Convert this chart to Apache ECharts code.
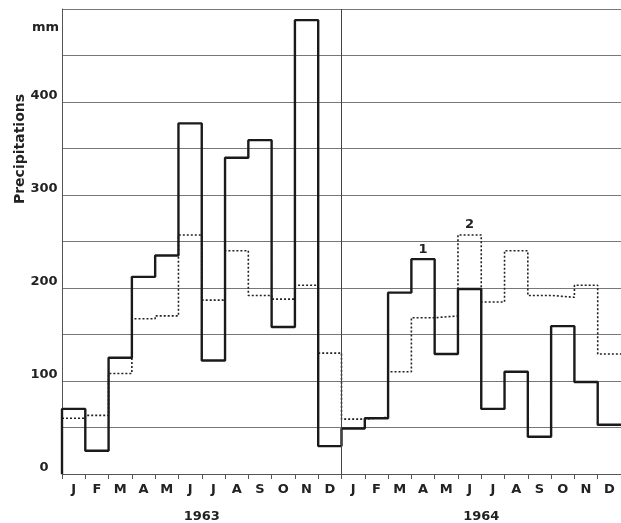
<!DOCTYPE html>
<html><head><meta charset="utf-8">
<script src="https://cdn.jsdelivr.net/npm/echarts@6/dist/echarts.min.js"></script>
<style>html,body{margin:0;padding:0;background:#fff}#c{width:621px;height:523px}</style>
</head><body><div id="c"></div>
<script>
var months = ['J','F','M','A','M','J','J','A','S','O','N','D','J','F','M','A','M','J','J','A','S','O','N','D'];
var years = ['1963','1964'];
var yTickLabels = [0,100,200,300,400];
// 1 : monthly precipitation (solid)
var precip1 = [70,25,125,212,235,377,122,340,359,158,488,30, 49,60,195,231,129,199,70,110,40,159,99,53];
// 2 : reference precipitation (dotted)
var precip2 = [60,63,108,167,170,257,187,240,192,188,203,130, 59,61,110,168,170,257,185,240,192,190,203,129];
var seriesLabels = [{name:'1', month:3, value:234},{name:'2', month:5, value:261}];

function stepData(vals, fromZero){
  var d = [];
  if (fromZero) d.push([0,0]);
  for (var i=0;i<vals.length;i++) d.push([i, vals[i]]);
  d.push([vals.length, vals[vals.length-1]]);
  return d;
}
var FONT = 'DejaVu Sans';
var chart = echarts.init(document.getElementById('c'), null, {renderer:'canvas'});
chart.setOption({
  animation:false,
  backgroundColor:'#ffffff',
  grid:{left:62, top:9, width:561, height:466},
  xAxis:[
    {type:'value', min:0, max:24, interval:1, position:'bottom',
     axisLine:{show:true, lineStyle:{color:'#555', width:1}},
     axisTick:{show:true, length:5, lineStyle:{color:'#555', width:1}},
     axisLabel:{show:false}, splitLine:{show:false}},
    {type:'category', data:months, position:'bottom', boundaryGap:true,
     axisLine:{show:false}, axisTick:{show:false},
     axisLabel:{show:true, interval:0, margin:9, fontFamily:FONT, fontWeight:'bold', fontSize:13, color:'#222'}},
    {type:'category', data:years, position:'bottom', boundaryGap:true,
     axisLine:{show:false}, axisTick:{show:false},
     axisLabel:{show:true, interval:0, margin:36, fontFamily:FONT, fontWeight:'bold', fontSize:13, color:'#222'}}
  ],
  yAxis:{type:'value', min:0, max:500, interval:50,
    axisLine:{show:true, lineStyle:{color:'#555', width:1}},
    axisTick:{show:false},
    splitLine:{show:true, lineStyle:{color:'#777', width:1}},
    axisLabel:{show:true, margin:18, align:'center', verticalAlign:'bottom',
      fontFamily:FONT, fontWeight:'bold', fontSize:13, color:'#222',
      formatter:function(v){ return yTickLabels.indexOf(v)>=0 ? String(v) : ''; }}
  },
  graphic:[
    {type:'text', left:32, top:21, style:{text:'mm', font:'bold 13px "DejaVu Sans"', fill:'#222'}},
    {type:'text', x:20, y:149, rotation:Math.PI/2, style:{text:'Precipitations', font:'bold 14px "DejaVu Sans"', fill:'#222', align:'center', verticalAlign:'middle'}}
  ],
  series:[
    {type:'line', name:'2', data:stepData(precip2,false), step:'end', symbol:'none',
     lineStyle:{color:'#222', width:1.6, type:[2,2]}, z:2,
     markPoint:{symbol:'circle', symbolSize:0,
       label:{show:true, position:'top', distance:0, fontFamily:FONT, fontWeight:'bold', fontSize:13, color:'#222', formatter:'{b}'},
       data:seriesLabels.filter(function(s){return s.name==='2';}).map(function(s){return {name:s.name, coord:[12+s.month+0.5, s.value]};})}},
    {type:'line', name:'1', data:stepData(precip1,true), step:'end', symbol:'none',
     lineStyle:{color:'#1a1a1a', width:2.4}, z:3,
     markLine:{silent:true, symbol:'none', label:{show:false}, lineStyle:{color:'#444', width:1, type:'solid'}, data:[{xAxis:12}]},
     markPoint:{symbol:'circle', symbolSize:0,
       label:{show:true, position:'top', distance:0, fontFamily:FONT, fontWeight:'bold', fontSize:13, color:'#222', formatter:'{b}'},
       data:seriesLabels.filter(function(s){return s.name==='1';}).map(function(s){return {name:s.name, coord:[12+s.month+0.5, s.value]};})}}
  ]
});
</script></body></html>
